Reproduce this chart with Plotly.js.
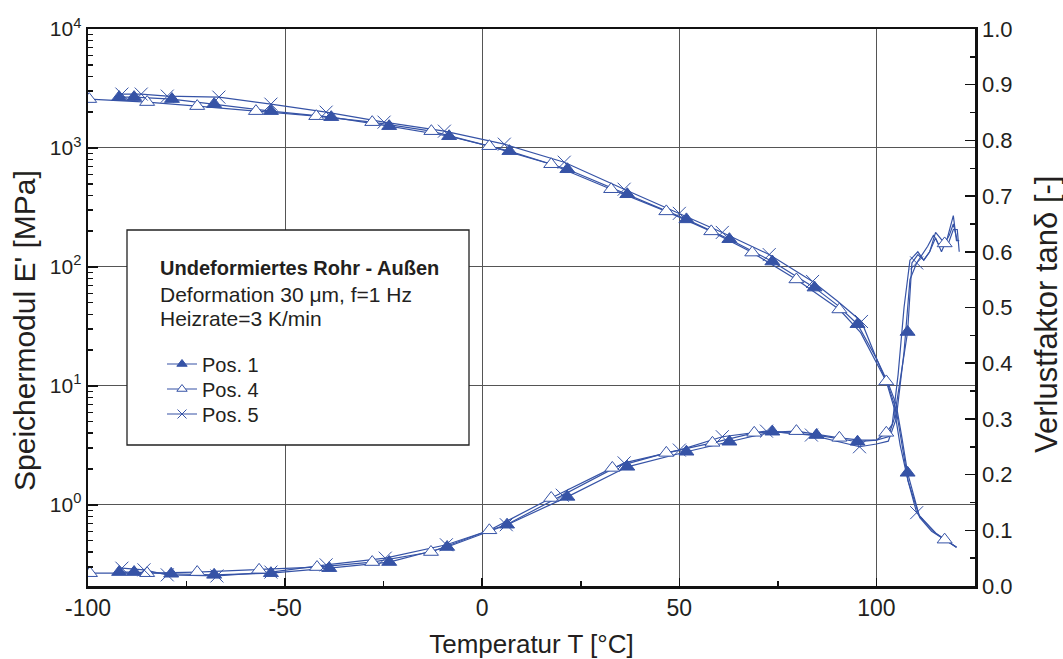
<!DOCTYPE html>
<html><head><meta charset="utf-8">
<script src="https://cdn.plot.ly/plotly-3.0.1.min.js"></script>
<style>html,body{margin:0;padding:0;background:#fff}#chart{width:1063px;height:659px}</style>
</head><body><div id="chart"></div>
<script>
// ---- Data: storage modulus E' [MPa] (marker points) ----
const pos1_E_T = [-92.1,-88.3,-78.7,-68.0,-53.6,-38.3,-23.6,-8.4,6.9,21.6,36.8,51.8,62.7,73.6,84.3,95.2,107.9];
const pos1_E   = [2675,2675,2575,2335,2040,1815,1525,1255,940,662,408,251,171,111,67,33,1.86];
const pos1_E_xT = [90,100,103,105,106.5,110.9,115.2,120.3];
const pos1_E_x  = [48,17,10.5,7,3.6,0.8,0.57,0.44];

const pos4_E_T = [-99.7,-85.0,-72.3,-57.4,-42.1,-27.9,-12.9,1.8,17.5,32.7,46.7,58.1,68.5,79.7,90.6,102.5,117.3];
const pos4_E   = [2575,2430,2248,2040,1850,1648,1384,1035,730,450,293,199,132,78.5,43.9,10.9,0.51];
const pos4_E_xT = [96,99,104.5,106,108,111,114,120.3];
const pos4_E_x  = [28,18,6.5,3.2,1.6,0.78,0.6,0.44];

const pos5_E_T = [-91.4,-86.5,-79.9,-66.8,-53.6,-39.6,-24.9,-9.6,5.6,20.8,36.0,50.0,60.9,72.8,83.8,96.2,110.2];
const pos5_E   = [2837,2837,2728,2675,2335,2000,1648,1384,1076,759,450,282,195,127,75.5,34.8,0.86];
const pos5_E_xT = [90,100,103,105,106.5,108,115,120.3];
const pos5_E_x  = [52,17,10,6.3,3.2,1.6,0.58,0.44];

// ---- Data: loss factor tan delta [-] ----
const pos1_tan_T = [-92.1,-88.3,-78.9,-68.0,-53.6,-38.8,-23.6,-8.9,6.3,21.6,36.8,51.8,62.7,73.6,84.8,95.2,107.9];
const pos1_tan   = [0.025,0.025,0.022,0.020,0.023,0.032,0.043,0.070,0.110,0.160,0.214,0.241,0.259,0.277,0.271,0.259,0.456];
const pos1_tan_xT = [100,103,104.5,106,109,110.5,112,113.5,115,116.5,118,119.5,120.3,121];
const pos1_tan_x  = [0.262,0.268,0.30,0.37,0.58,0.595,0.585,0.60,0.625,0.60,0.625,0.665,0.62,0.62];

const pos4_tan_T = [-99.5,-85.0,-72.3,-56.6,-41.9,-27.9,-13.0,1.8,17.5,33.0,46.7,58.4,69.0,79.7,90.6,102.5,117.3];
const pos4_tan   = [0.023,0.023,0.025,0.029,0.034,0.043,0.061,0.100,0.158,0.212,0.239,0.257,0.275,0.278,0.266,0.275,0.615];
const pos4_tan_xT = [96,100,104,105.5,107,108.5,110.5,112,113.5,115,118.5,119.5,120.5];
const pos4_tan_x  = [0.262,0.262,0.29,0.38,0.50,0.585,0.60,0.585,0.60,0.635,0.63,0.65,0.62];

const pos5_tan_T = [-91.4,-85.8,-79.9,-67.3,-53.6,-39.6,-24.6,-9.1,6.1,20.3,36.0,50.0,60.9,72.1,83.5,95.7,110.2];
const pos5_tan   = [0.032,0.029,0.020,0.018,0.025,0.038,0.050,0.074,0.110,0.163,0.221,0.244,0.268,0.278,0.271,0.250,0.58];
const pos5_tan_xT = [100,103,105,107,108.5,111.5,113,114.5,116,118,119.5,120.5,121];
const pos5_tan_x  = [0.255,0.26,0.30,0.42,0.55,0.595,0.61,0.63,0.61,0.61,0.64,0.64,0.60];

const seriesNames = ['Pos. 1','Pos. 4','Pos. 5'];
const xTickVals = [-100,-50,0,50,100];
const xTickText = ['-100','-50','0','50','100'];
const yTickVals = [1,10,100,1000,10000];
const yTickText = ['10<sup>0</sup>','10<sup>1</sup>','10<sup>2</sup>','10<sup>3</sup>','10<sup>4</sup>'];
const xTitle = 'Temperatur T [°C]';
const yTitle = "Speichermodul E' [MPa]";
const y2Title = 'Verlustfaktor tanδ [-]';
const boxTitle = 'Undeformiertes Rohr - Außen';
const boxLine2 = 'Deformation 30 μm, f=1 Hz';
const boxLine3 = 'Heizrate=3 K/min';

// ---- build ----
const BLUE = '#3653a6';
function merge(t1, v1, t2, v2){
  const pts = t1.map((t,i)=>[t,v1[i]]).concat(t2.map((t,i)=>[t,v2[i]]));
  pts.sort((a,b)=>a[0]-b[0]);
  return {x: pts.map(p=>p[0]), y: pts.map(p=>p[1])};
}
const markerStyles = [
  {symbol:'triangle-up', size:13, color:BLUE, line:{color:BLUE, width:1}},
  {symbol:'triangle-up', size:13, color:'#ffffff', line:{color:BLUE, width:1}},
  {symbol:'x-thin-open', size:13, color:BLUE, line:{color:BLUE, width:1}}
];
const sets = [
  [pos1_E_T,pos1_E,pos1_E_xT,pos1_E_x, pos1_tan_T,pos1_tan,pos1_tan_xT,pos1_tan_x],
  [pos4_E_T,pos4_E,pos4_E_xT,pos4_E_x, pos4_tan_T,pos4_tan,pos4_tan_xT,pos4_tan_x],
  [pos5_E_T,pos5_E,pos5_E_xT,pos5_E_x, pos5_tan_T,pos5_tan,pos5_tan_xT,pos5_tan_x]
];
const traces = [];
sets.forEach((s,k)=>{
  const le = merge(s[0],s[1],s[2],s[3]);
  const lt = merge(s[4],s[5],s[6],s[7]);
  traces.push({x:le.x, y:le.y, mode:'lines', line:{color:BLUE, width:1.2}, showlegend:false, hoverinfo:'skip'});
  traces.push({x:lt.x, y:lt.y, yaxis:'y2', mode:'lines', line:{color:BLUE, width:1.2}, showlegend:false, hoverinfo:'skip'});
});
sets.forEach((s,k)=>{
  traces.push({x:s[0], y:s[1], mode:'markers', marker:markerStyles[k], showlegend:false});
  traces.push({x:s[4], y:s[5], yaxis:'y2', mode:'markers', marker:markerStyles[k], showlegend:false});
});
const legendIds = ['legend','legend2','legend3'];
seriesNames.forEach((n,k)=>{
  traces.push({x:[null], y:[null], name:n, mode:'lines+markers', legend:legendIds[k],
    marker:Object.assign({}, markerStyles[k], {size:9}), line:{color:BLUE, width:1.2}});
});

const minorLog = [];
for (let d=-1; d<4; d++) for (let m=2; m<10; m++) minorLog.push(m*Math.pow(10,d));

const FONT = 'Liberation Sans, Arial, sans-serif';
const TXT = '#231f20';
const L = 88, R = 975, T = 29, B = 586;
const px = v => (v - L)/(R - L), py = v => (B - v)/(B - T);
const legendY = [364, 389, 414];
function mkLegend(k){
  return {x:px(162), y:py(legendY[k]), xanchor:'left', yanchor:'middle', bgcolor:'rgba(0,0,0,0)', borderwidth:0,
    font:{size:20, color:TXT, family:FONT}, itemwidth:30};
}
const ann = (text, x, y, size, extra) => Object.assign({text, xref:'paper', yref:'paper', x:px(x), y:py(y),
  xanchor:'left', yanchor:'middle', showarrow:false, font:{size, color:TXT, family:FONT}}, extra||{});

const layout = {
  width:1063, height:659,
  margin:{l:L, r:1063-R, t:T, b:659-B, pad:0},
  paper_bgcolor:'#fff', plot_bgcolor:'#fff',
  font:{family:FONT, color:TXT, size:20},
  xaxis:{range:[-100,125], tickmode:'array', tickvals:xTickVals, ticktext:xTickText, ticks:'inside', ticklen:8, tickwidth:1.5, tickcolor:'#111',
    minor:{ticks:'inside', ticklen:5, dtick:25, tick0:0, tickcolor:'#111', tickwidth:1.5, showgrid:false},
    showgrid:true, gridcolor:'#555', gridwidth:1, zeroline:false,
    showline:true, linewidth:2.5, linecolor:'#111', mirror:true,
    tickfont:{size:23, color:TXT, family:FONT},
    title:{text:xTitle, font:{size:26, color:TXT, family:FONT}, standoff:16}},
  yaxis:{type:'log', range:[-0.682,4], tickmode:'array', tickvals:yTickVals, ticktext:yTickText,
    ticks:'inside', ticklen:10, tickwidth:1.5, tickcolor:'#111',
    minor:{tickmode:'array', tickvals:minorLog, ticks:'inside', ticklen:5, tickwidth:1.5, tickcolor:'#111', showgrid:false},
    showgrid:true, gridcolor:'#555', gridwidth:1, zeroline:false,
    showline:true, linewidth:2.5, linecolor:'#111',
    tickfont:{size:21, color:TXT, family:FONT}},
  yaxis2:{overlaying:'y', side:'right', range:[0,1], tick0:0, dtick:0.1, tickformat:'.1f',
    ticks:'inside', ticklen:10, tickwidth:1.5, tickcolor:'#111',
    minor:{ticks:'inside', ticklen:5, dtick:0.05, tickwidth:1.5, tickcolor:'#111', showgrid:false},
    showgrid:false, zeroline:false, showline:true, linewidth:2.5, linecolor:'#111',
    tickfont:{size:22, color:TXT, family:FONT}},
  showlegend:true,
  legend:mkLegend(0), legend2:mkLegend(1), legend3:mkLegend(2),
  shapes:[{type:'rect', xref:'paper', yref:'paper', x0:px(127), x1:px(469), y0:py(445), y1:py(230),
    line:{color:'#222', width:1.3}, fillcolor:'#fff', layer:'above'}],
  annotations:[
    ann('<b>'+boxTitle+'</b>', 158, 268, 20),
    ann(boxLine2, 158, 294, 21),
    ann(boxLine3, 158, 319, 21),
    ann(yTitle, 24, 331, 30, {xanchor:'center', textangle:-90}),
    ann(y2Title, 1046, 315, 31, {xanchor:'center', textangle:-90})
  ]
};
Plotly.newPlot('chart', traces, layout, {displayModeBar:false, staticPlot:true});
</script></body></html>
